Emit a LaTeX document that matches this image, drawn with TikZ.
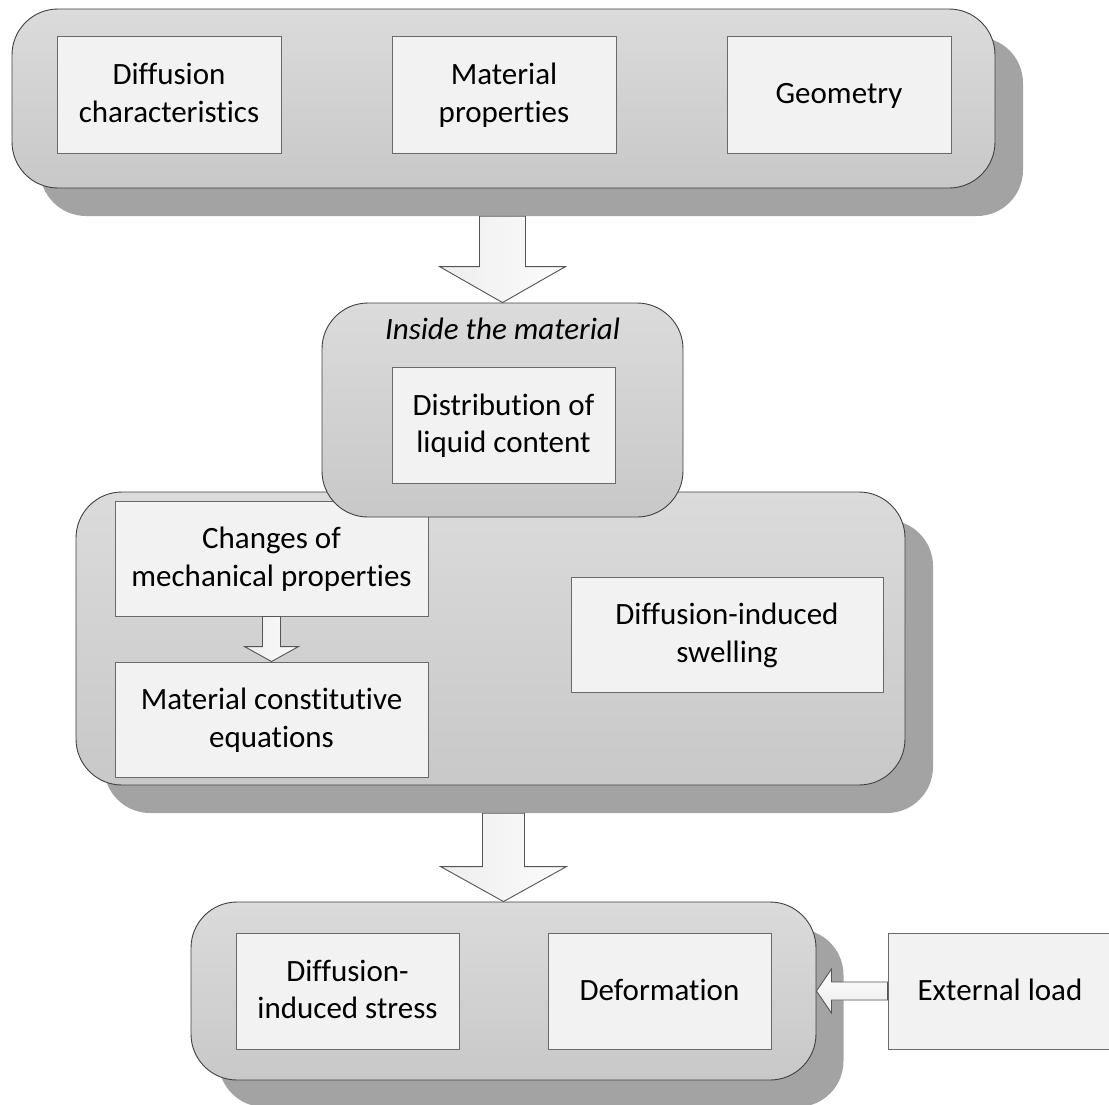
\documentclass[tikz,border=0pt]{standalone}
\usepackage{fontspec}
\setmainfont{Carlito}[Ligatures=CommonOff]
\usetikzlibrary{calc}
\definecolor{grpTop}{HTML}{DBDBDB}
\definecolor{grpBot}{HTML}{C8C8C8}
\definecolor{grpShadow}{HTML}{A3A3A3}
\definecolor{grpLine}{HTML}{404040}
\definecolor{boxFill}{HTML}{F2F2F2}
\definecolor{boxLine}{HTML}{6A6A6A}
\definecolor{arrLine}{HTML}{555555}
\definecolor{arrShadow}{HTML}{DEDEDE}
\definecolor{arrLeft}{HTML}{EDEDED}
\definecolor{arrRight}{HTML}{FCFCFC}
\newcommand\tq{\rule{0pt}{25pt}}
\newcommand\bq{\rule[-7pt]{0pt}{7pt}}
\begin{document}
\begin{tikzpicture}[x=1pt,y=-1pt,
  grp/.style={draw=grpLine, line width=0.9pt, top color=grpTop, bottom color=grpBot,
    rounded corners=46pt, inner sep=0pt},
  grpshadow/.style={fill=grpShadow, rounded corners=46pt, inner sep=0pt},
  inbox/.style={draw=boxLine, line width=0.9pt, fill=boxFill, inner sep=0pt,
    align=center, font=\fontsize{31}{37.7}\selectfont},
  blockarrow/.style={draw=arrLine, line width=0.9pt, left color=arrLeft, right color=arrRight, line join=miter},
  arrshadow/.style={fill=arrShadow}
]
\useasboundingbox (0,0) rectangle (1109,1104);

% ---------- top group ----------
\node[grpshadow, minimum width=983pt, minimum height=179pt] (topsh) at (531.5,126.5) {};
\node[grp, minimum width=983pt, minimum height=179pt] (topgrp) at (503.5,98.5) {};
\node[inbox, minimum width=224pt, minimum height=117pt] (diff) at (169,94.5) {\tq Diffusion\\characteristics\bq};
\node[inbox, minimum width=224pt, minimum height=117pt] (matp) at (504,94.5) {\tq Material\\properties\bq};
\node[inbox, minimum width=224pt, minimum height=117pt] (geom) at (839,94.5) {\tq Geometry\bq};

% ---------- middle big group ----------
\node[grpshadow, minimum width=829pt, minimum height=293pt] (bigsh) at (518.5,666.5) {};
\node[grp, minimum width=829pt, minimum height=293pt] (biggrp) at (490.5,638.5) {};
\node[inbox, minimum width=313pt, minimum height=115pt] (chg) at (271.5,558.5) {\tq Changes of\\mechanical properties\bq};
\node[inbox, minimum width=313pt, minimum height=115pt] (cons) at (271.5,719.5) {\tq Material constitutive\\equations\bq};
\node[inbox, minimum width=312pt, minimum height=115pt] (swell) at (727,634.5) {\tq Diffusion-induced\\swelling\bq};

% small arrow chg -> cons
\begin{scope}[shift={(4,3)}]
\fill[arrshadow] let \p1=(chg.south), \p2=(cons.north) in
  (\x1-9pt,\y1) -- (\x1-9pt,\y2+15pt) -- (\x1-27pt,\y2+15pt) -- (\x1,\y2)
  -- (\x1+27pt,\y2+15pt) -- (\x1+9pt,\y2+15pt) -- (\x1+9pt,\y1) -- cycle;
\end{scope}
\draw[blockarrow] let \p1=(chg.south), \p2=(cons.north) in
  (\x1-9pt,\y1) -- (\x1-9pt,\y2+15pt) -- (\x1-27pt,\y2+15pt) -- (\x1,\y2)
  -- (\x1+27pt,\y2+15pt) -- (\x1+9pt,\y2+15pt) -- (\x1+9pt,\y1) -- cycle;

% ---------- inside the material group ----------
\node[grp, minimum width=361pt, minimum height=214pt] (ins) at (502.5,410) {};
\node[font=\fontsize{31}{37.7}\selectfont\itshape, inner sep=0pt, anchor=base] (instit) at (502.5,339) {Inside the material};
\node[inbox, minimum width=223pt, minimum height=116pt] (dist) at (503.5,425) {\tq Distribution of\\liquid content\bq};

% arrow 1: top group -> inside group
\begin{scope}[shift={(5,3)}]
\fill[arrshadow] let \p1=(topsh.south), \p2=(ins.north) in
  (\x2-23pt,\y1) -- (\x2-23pt,\y2+36pt) -- (\x2-63pt,\y2+36pt) -- (\x2,\y2)
  -- (\x2+63pt,\y2+36pt) -- (\x2+23pt,\y2+36pt) -- (\x2+23pt,\y1) -- cycle;
\end{scope}
\draw[blockarrow] let \p1=(topsh.south), \p2=(ins.north) in
  (\x2-23pt,\y1) -- (\x2-23pt,\y2+36pt) -- (\x2-63pt,\y2+36pt) -- (\x2,\y2)
  -- (\x2+63pt,\y2+36pt) -- (\x2+23pt,\y2+36pt) -- (\x2+23pt,\y1) -- cycle;

% ---------- bottom group ----------
\node[grpshadow, minimum width=625pt, minimum height=178pt] (botsh) at (531,1018) {};
\node[grp, minimum width=625pt, minimum height=178pt] (botgrp) at (503.5,991) {};
\node[inbox, minimum width=223pt, minimum height=116pt] (stress) at (347.5,991) {\tq Diffusion-\\induced stress\bq};
\node[inbox, minimum width=223pt, minimum height=116pt] (deform) at (659.5,991) {\tq Deformation\bq};

% arrow 2: big group -> bottom group
\begin{scope}[shift={(5,3)}]
\fill[arrshadow] let \p1=(bigsh.south), \p2=(botgrp.north) in
  (\x2-21pt,\y1) -- (\x2-21pt,\y2+35pt) -- (\x2-63pt,\y2+35pt) -- (\x2,\y2)
  -- (\x2+63pt,\y2+35pt) -- (\x2+21pt,\y2+35pt) -- (\x2+21pt,\y1) -- cycle;
\end{scope}
\draw[blockarrow] let \p1=(bigsh.south), \p2=(botgrp.north) in
  (\x2-21pt,\y1) -- (\x2-21pt,\y2+35pt) -- (\x2-63pt,\y2+35pt) -- (\x2,\y2)
  -- (\x2+63pt,\y2+35pt) -- (\x2+21pt,\y2+35pt) -- (\x2+21pt,\y1) -- cycle;

% ---------- external load ----------
\node[inbox, minimum width=224pt, minimum height=116pt] (ext) at (1000,991) {\tq External load\bq};

% left arrow ext -> bottom group
\begin{scope}[shift={(4,4)}]
\fill[arrshadow] let \p1=(ext.west), \p2=(botgrp.east) in
  (\x1,\y2+9pt) -- (\x2+15pt,\y2+9pt) -- (\x2+15pt,\y2+22pt) -- (\x2,\y2)
  -- (\x2+15pt,\y2-22pt) -- (\x2+15pt,\y2-9pt) -- (\x1,\y2-9pt) -- cycle;
\end{scope}
\draw[blockarrow, top color=arrRight, bottom color=arrLeft] let \p1=(ext.west), \p2=(botgrp.east) in
  (\x1,\y2+9pt) -- (\x2+15pt,\y2+9pt) -- (\x2+15pt,\y2+22pt) -- (\x2,\y2)
  -- (\x2+15pt,\y2-22pt) -- (\x2+15pt,\y2-9pt) -- (\x1,\y2-9pt) -- cycle;
\end{tikzpicture}
\end{document}
